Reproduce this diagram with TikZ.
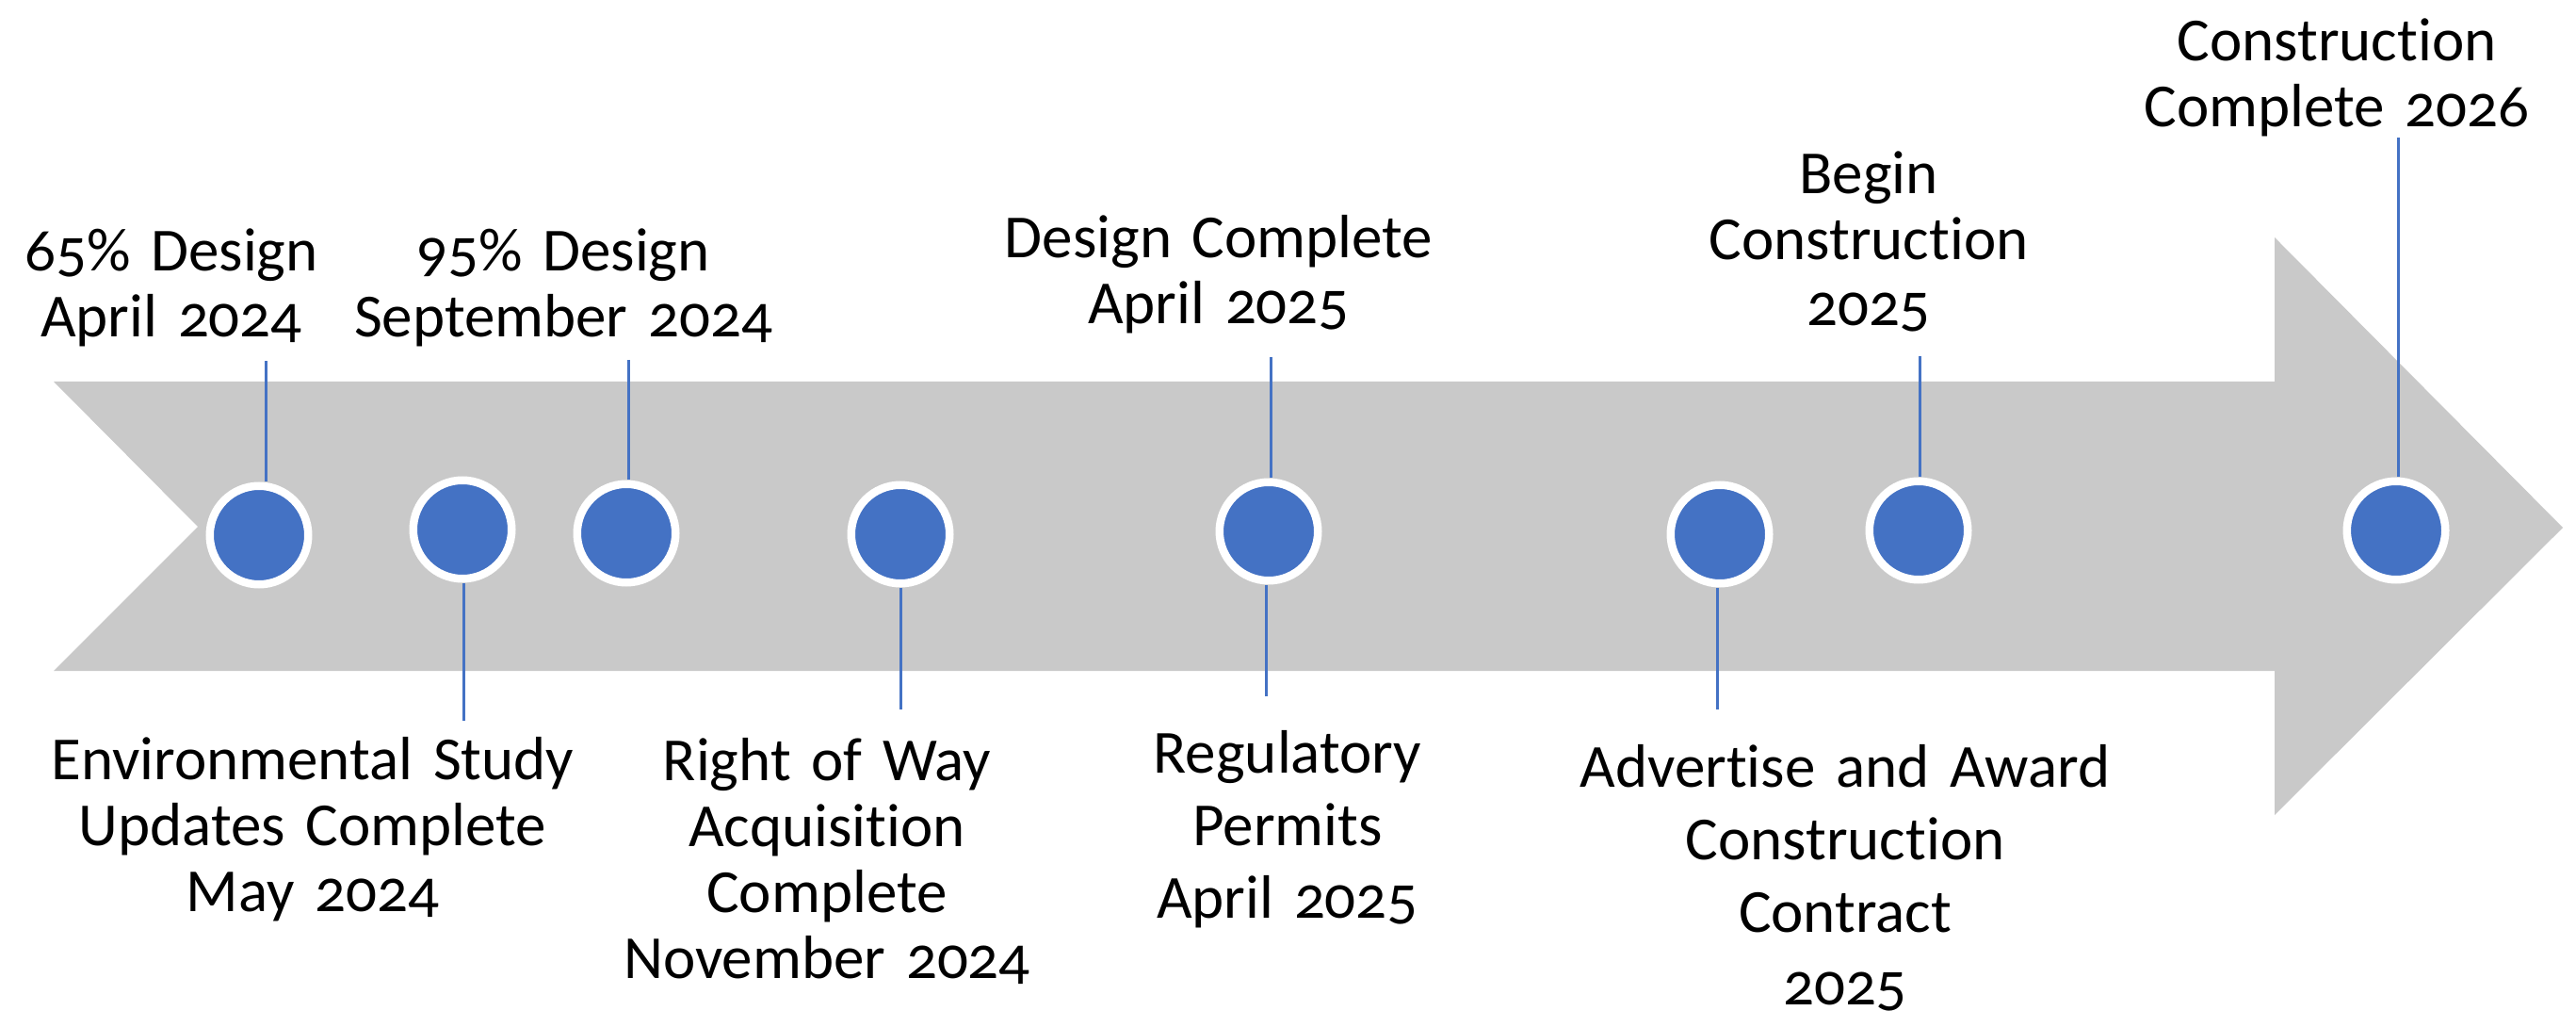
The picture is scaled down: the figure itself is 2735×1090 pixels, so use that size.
\documentclass[tikz,border=0pt]{standalone}
\usepackage{fontspec}
\setmainfont{Carlito}[Numbers=OldStyle,RawFeature={-liga;-dlig}]
\definecolor{arrowgray}{HTML}{C9C9C9}
\definecolor{msblue}{HTML}{4472C4}
\newcommand{\lblfont}[1]{\fontsize{32.5pt}{#1}\selectfont\spaceskip=0.16em plus 0.02em minus 0.02em\relax}
\begin{document}
\begin{tikzpicture}[x=0.5pt,y=-0.5pt,
  dot/.style={circle,fill=msblue,draw=white,line width=4.25pt,minimum size=52.25pt,inner sep=0pt},
  lbl/.style={align=center,text width=420pt,anchor=base,inner sep=0pt,
    font=\lblfont{35pt}},
  lblwide/.style={lbl,font=\lblfont{38.5pt}},
  tick/.style={draw=msblue,line width=1.5pt}]
\useasboundingbox (0,0) rectangle (2735,1090);
% arrow body
\fill[arrowgray] (57,405) -- (2415,405) -- (2415,252) -- (2721,560) -- (2415,865)
  -- (2415,712) -- (57,712) -- (210,559) -- cycle;
% free ends of the ticks
\coordinate (t1) at (282,383);
\coordinate (t2) at (492,765);
\coordinate (t3) at (667,382);
\coordinate (t4) at (956,753);
\coordinate (t5a) at (1349,379);
\coordinate (t5b) at (1344,739);
\coordinate (t6) at (1823,753);
\coordinate (t7) at (2038,378);
\coordinate (t8) at (2546,146);
% milestones
\node[dot] (c1) at (275,568) {};
\node[dot] (c2) at (491,562) {};
\node[dot] (c3) at (665,566) {};
\node[dot] (c4) at (956,567) {};
\node[dot] (c5) at (1347,564) {};
\node[dot] (c6) at (1826,567) {};
\node[dot] (c7) at (2037,563) {};
\node[dot] (c8) at (2544,563) {};
% ticks
\draw[tick] (t1) -- (t1 |- c1.north);
\draw[tick] (t2) -- (t2 |- c2.south);
\draw[tick] (t3) -- (t3 |- c3.north);
\draw[tick] (t4) -- (t4 |- c4.south);
\draw[tick] (t5a) -- (t5a |- c5.north);
\draw[tick] (t5b) -- (t5b |- c5.south);
\draw[tick] (t6) -- (t6 |- c6.south);
\draw[tick] (t7) -- (t7 |- c7.north);
\draw[tick] (t8) -- (t8 |- c8.north);
% labels above
\node[lbl] (l1) at (182,288) {65\% Design\\April 2024};
\node[lbl] (l3) at (598,288) {95\% Design\\September 2024};
\node[lbl] (l5a) at (1294,274) {Design Complete\\April 2025};
\node[lbl] (l7) at (1984,206) {Begin\\Construction\\2025};
\node[lbl] (l8) at (2481,65) {Construction\\Complete 2026};
% labels below
\node[lbl] (l2) at (332,827) {Environmental Study\\Updates Complete\\May 2024};
\node[lbl] (l4) at (878,828) {Right of Way\\Acquisition\\Complete\\November 2024};
\node[lblwide] (l5b) at (1367,820) {Regulatory\\Permits\\April 2025};
\node[lblwide] (l6) at (1959,835) {Advertise and Award\\Construction\\Contract\\2025};
\end{tikzpicture}
\end{document}
